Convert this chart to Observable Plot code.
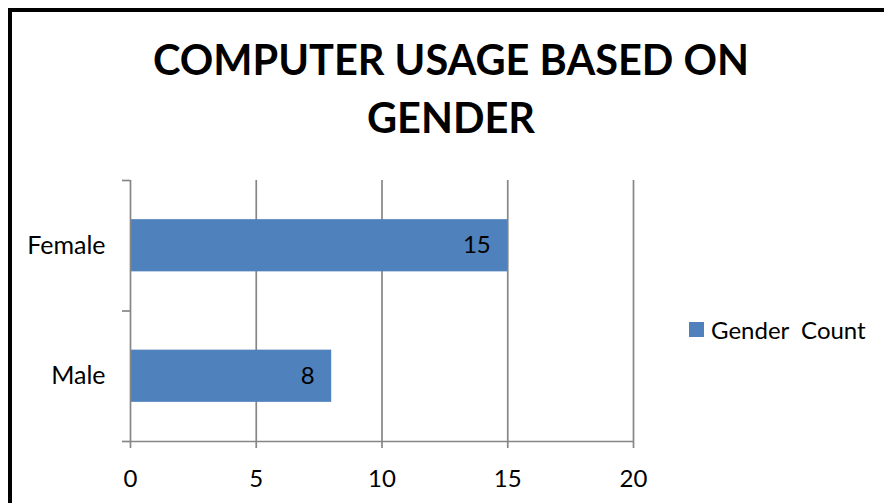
<!DOCTYPE html>
<html><head><meta charset="utf-8">
<script src="https://cdn.jsdelivr.net/npm/d3@7"></script>
<script src="https://cdn.jsdelivr.net/npm/@observablehq/plot@0.6"></script>
<style>
html,body{margin:0;padding:0;background:#fff;}
#wrap{position:relative;width:884px;height:503px;overflow:hidden;font-family:Lato,sans-serif;}
#frame{position:absolute;left:8px;top:8px;width:1000px;height:600px;border-left:4px solid #000;border-top:4px solid #000;box-sizing:border-box;}
#title{position:absolute;left:0;top:30px;width:902px;text-align:center;font-weight:bold;font-size:41.5px;line-height:58px;color:#000;}
#plot{position:absolute;left:0;top:0;}
#legend{position:absolute;left:689px;top:314px;height:30px;display:flex;align-items:center;font-size:24px;white-space:pre;color:#000;}
#legend .sw{width:15px;height:15px;background:#4F81BD;margin-right:7px;}
</style>
</head><body>
<div id="wrap">
  <div id="frame"></div>
  <div id="title"></div>
  <div id="plot"></div>
  <div id="legend"><div class="sw"></div><span id="legtext"></span></div>
</div>
<script>
const titleLines = ["COMPUTER USAGE BASED ON", "GENDER"];
const categories = ["Female", "Male"];
const counts = [15, 8];
const xTicks = [0, 5, 10, 15, 20];
const seriesName = "Gender  Count";

const barColor = "#4F81BD";
const gridColor = "#868686";
const lineW = 1.7;

document.getElementById("title").innerHTML = titleLines.join("<br>");
document.getElementById("legtext").textContent = seriesName;

const n = categories.length;
const data = categories.map((c, i) => ({category: c, value: counts[i], pos: n - 1 - i}));

const chart = Plot.plot({
  width: 884,
  height: 503,
  marginLeft: 130,
  marginRight: 251,
  marginTop: 180,
  marginBottom: 62,
  style: {fontFamily: "Lato, sans-serif", fontSize: "24px", color: "#000", background: "transparent"},
  x: {domain: [xTicks[0], xTicks[xTicks.length - 1]], axis: null},
  y: {domain: [0, n], axis: null},
  marks: [
    Plot.ruleX(xTicks.slice(1), {stroke: gridColor, strokeWidth: lineW}),
    Plot.rectX(data, {x: "value", y1: d => d.pos + 0.3, y2: d => d.pos + 0.7, fill: barColor}),
    Plot.text(data, {x: "value", y: d => d.pos + 0.5, text: d => String(d.value), textAnchor: "end", dx: -17, fill: "#000", fontSize: 24}),
    Plot.ruleX([xTicks[0]], {stroke: gridColor, strokeWidth: lineW}),
    Plot.ruleY([0], {stroke: gridColor, strokeWidth: lineW}),
    Plot.axisX({ticks: xTicks, tickSize: 7, tickPadding: 21, stroke: gridColor, strokeWidth: lineW, fill: "#000", fontSize: 24, tickFormat: d => String(d), label: null}),
    Plot.axisY({ticks: d3.range(0, n + 1), tickSize: 8, tickFormat: () => "", stroke: gridColor, strokeWidth: lineW, label: null}),
    Plot.axisY({ticks: data.map(d => d.pos + 0.5), tickSize: 0, tickPadding: 25, fill: "#000", fontSize: 25, label: null,
      tickFormat: v => categories[n - 1 - Math.floor(v)]})
  ]
});
document.getElementById("plot").appendChild(chart);
</script>
</body></html>
